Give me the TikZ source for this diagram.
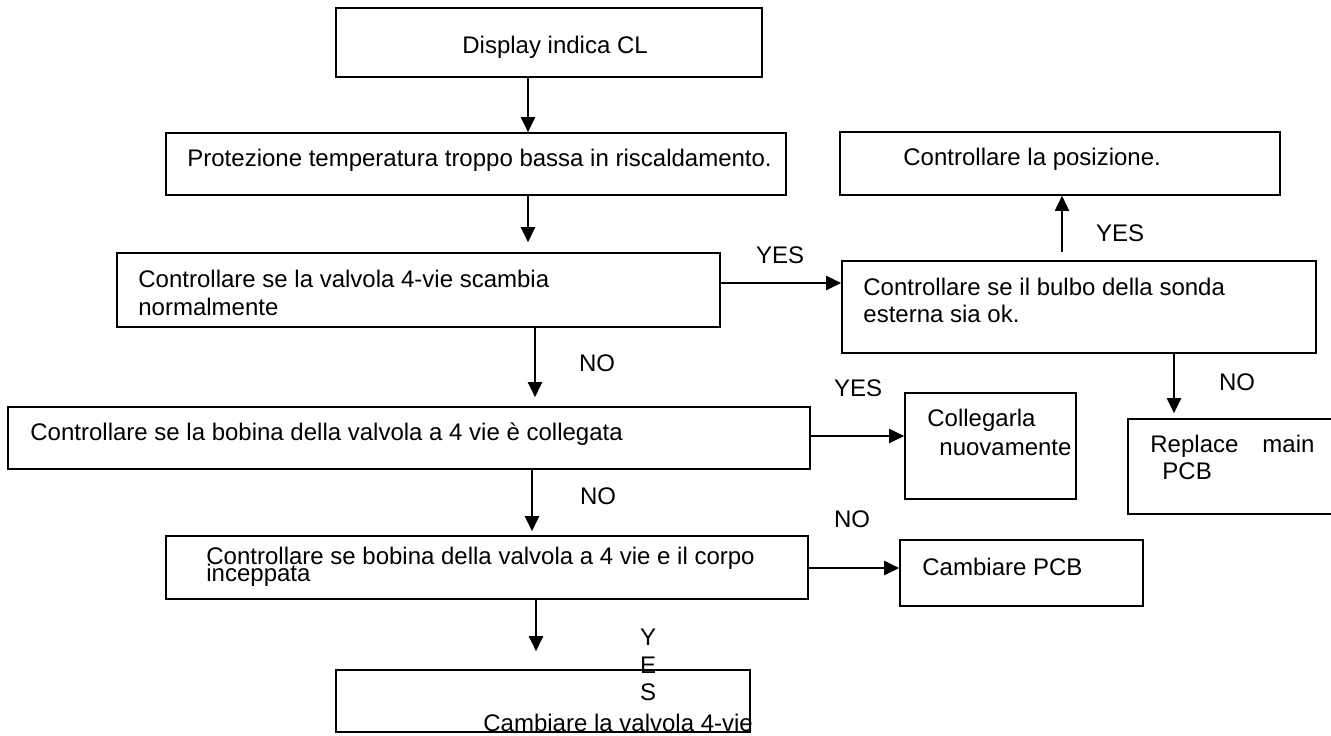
\documentclass[tikz,border=0pt]{standalone}
\usepackage{fontspec}
\setmainfont{Liberation Sans}
\usetikzlibrary{arrows.meta, positioning, fit, calc}
\tikzset{
  box/.style={draw=black, line width=0.8pt, inner sep=0pt},
  txt/.style={font=\fontsize{12}{14}\selectfont, inner sep=0pt, anchor=base west},
  lbl/.style={font=\fontsize{12}{14}\selectfont, inner sep=0pt},
  arr/.style={-{Triangle[length=7.5pt, width=7pt]}, line width=1pt},
}
\begin{document}
\begin{tikzpicture}[x=0.5pt, y=-0.5pt]
\useasboundingbox (0,0) rectangle (1331,735);
\clip (0,0) rectangle (1331,735);
% boxes
\node[box, fit={(336,8) (762,77)}] (disp) {};
\node[box, fit={(166,133) (786,195)}] (prot) {};
\node[box, fit={(117,253) (720,327)}] (valv) {};
\node[box, fit={(842,261) (1316,353)}] (bulbo) {};
\node[box, fit={(840,132) (1280,195)}] (posiz) {};
\node[box, fit={(1128,419) (1345,514)}] (repl) {};
\node[box, fit={(8,407) (810,469)}] (bobina) {};
\node[box, fit={(905,393) (1076,499)}] (colleg) {};
\node[box, fit={(166,536) (808,599)}] (corpo) {};
\node[box, fit={(900,540) (1143,606)}] (cambpcb) {};
\node[box, fit={(336,670) (750,732)}] (cambvalv) {};
% texts
\node[txt] (disp-t) at (462,53) {Display indica CL};
\node[txt] (prot-t) at (187,166) {Protezione temperatura troppo bassa in riscaldamento.};
\node[txt] (valv-t1) at (138,287) {Controllare se la valvola 4-vie scambia};
\node[txt] (valv-t2) at (138,315) {normalmente};
\node[txt] (bulbo-t1) at (863,295) {Controllare se il bulbo della sonda};
\node[txt] (bulbo-t2) at (863,322) {esterna sia ok.};
\node[txt] (posiz-t) at (903,165) {Controllare la posizione.};
\node[txt] (repl-t1) at (1150,452) {Replace\hspace{12pt}main};
\node[txt] (repl-t2) at (1162,479) {PCB};
\node[txt] (bobina-t) at (30,440) {Controllare se la bobina della valvola a 4 vie è collegata};
\node[txt] (colleg-t1) at (927,426) {Collegarla};
\node[txt] (colleg-t2) at (939,455) {nuovamente};
\node[txt] (corpo-t1) at (206,564) {Controllare se bobina della valvola a 4 vie e il corpo};
\node[txt] (corpo-t2) at (206,581) {inceppata};
\node[txt] (cambpcb-t) at (922,575) {Cambiare PCB};
\node[txt] (cambvalv-t) at (483,731) {Cambiare la valvola 4-vie};
% labels
\node[lbl] (yes1) at (780,255) {YES};
\node[lbl] (yes2) at (1120,233) {YES};
\node[lbl] (no1) at (597,363) {NO};
\node[lbl] (no2) at (598,496) {NO};
\node[lbl] (yes3) at (858,388) {YES};
\node[lbl] (no3) at (852,519) {NO};
\node[lbl] (no4) at (1237,382) {NO};
\node[lbl, align=center, anchor=north, font=\fontsize{12}{13.75}\selectfont] (yes4) at (648,629) {Y\\E\\S};
% lanes
\coordinate (lane1) at (528,0);
\coordinate (lane2) at (535,0);
\coordinate (lane3) at (532,0);
\coordinate (lane4) at (536,0);
\coordinate (lane5) at (1062,0);
\coordinate (lane6) at (1174,0);
\coordinate (row1) at (0,283);
\coordinate (row2) at (0,436);
\coordinate (row3) at (0,568);
% arrows
\draw[arr] (disp.south -| lane1) -- (prot.north -| lane1);
\draw[arr, shorten >=5pt] (prot.south -| lane1) -- (valv.north -| lane1);
\draw[arr, shorten >=4.5pt] (valv.south -| lane2) -- (bobina.north -| lane2);
\draw[arr, shorten >=2pt] (bobina.south -| lane3) -- (corpo.north -| lane3);
\draw[arr, shorten >=9pt] (corpo.south -| lane4) -- (cambvalv.north -| lane4);
\draw[arr] (valv.east |- row1) -- (bulbo.west |- row1);
\draw[arr, shorten <=4pt] (bulbo.north -| lane5) -- (posiz.south -| lane5);
\draw[arr, shorten >=2.5pt] (bulbo.south -| lane6) -- (repl.north -| lane6);
\draw[arr] (bobina.east |- row2) -- (colleg.west |- row2);
\draw[arr] (corpo.east |- row3) -- (cambpcb.west |- row3);
\end{tikzpicture}
\end{document}
